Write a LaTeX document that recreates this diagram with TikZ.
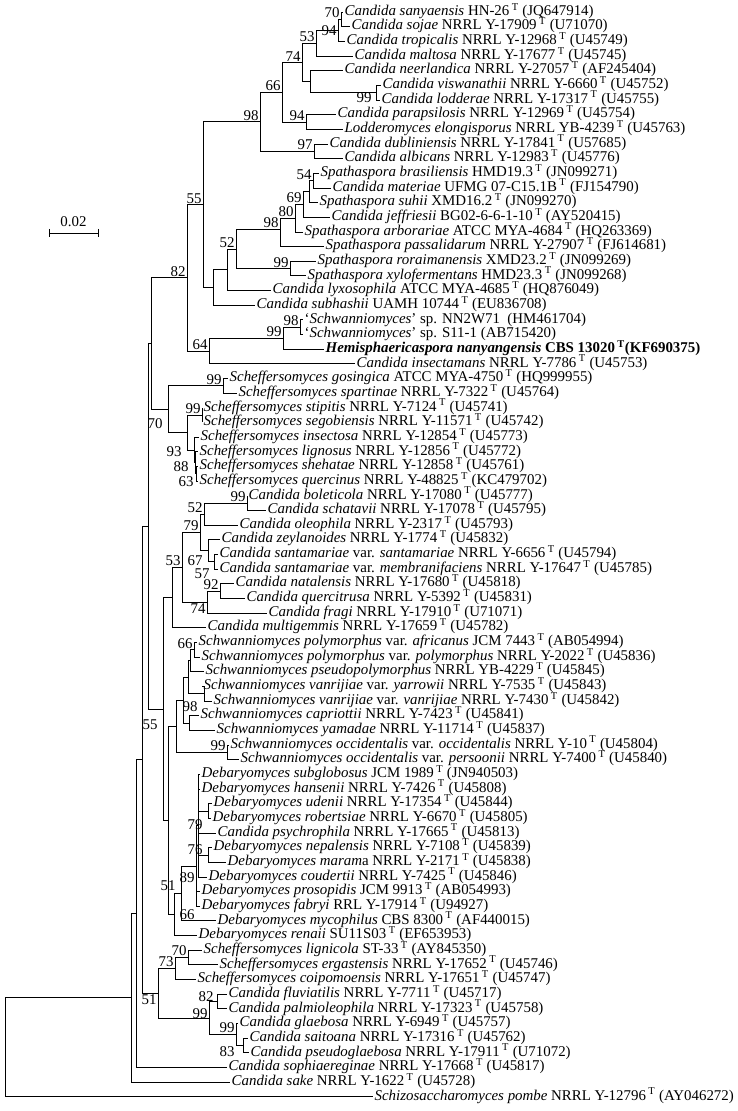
\documentclass[tikz,border=0pt]{standalone}
\usepackage{fontspec}
\setmainfont{Liberation Serif}
\usetikzlibrary{positioning}
\newcommand{\typ}{\,\textsuperscript{T}\ }
\tikzset{
  leaf/.style={anchor=west, inner sep=1.5pt, text height=9.5pt, text depth=3pt},
  bs/.style={inner sep=1.2pt},
  br/.style={line width=0.8pt}
}
\begin{document}
\begin{tikzpicture}[x=1pt, y=-14.66pt, every node/.style={font=\fontsize{14.9}{15}\selectfont}]
\useasboundingbox (0,0.18) rectangle (738,75.97);
% leaves
\node[leaf] (l1) at (343,1) {\textit{Candida sanyaensis} HN-26\typ(JQ647914)};
\node[leaf] (l2) at (350,2) {\textit{Candida sojae} NRRL Y-17909\typ(U71070)};
\node[leaf] (l3) at (345,3) {\textit{Candida tropicalis} NRRL Y-12968\typ(U45749)};
\node[leaf] (l4) at (353,4) {\textit{Candida maltosa} NRRL Y-17677\typ(U45745)};
\node[leaf] (l5) at (343,5) {\textit{Candida neerlandica} NRRL Y-27057\typ(AF245404)};
\node[leaf] (l6) at (381,6) {\textit{Candida viswanathii} NRRL Y-6660\typ(U45752)};
\node[leaf] (l7) at (380,7) {\textit{Candida lodderae} NRRL Y-17317\typ(U45755)};
\node[leaf] (l8) at (336,8) {\textit{Candida parapsilosis} NRRL Y-12969\typ(U45754)};
\node[leaf] (l9) at (343,9) {\textit{Lodderomyces elongisporus} NRRL YB-4239\typ(U45763)};
\node[leaf] (l10) at (328,10) {\textit{Candida dubliniensis} NRRL Y-17841\typ(U57685)};
\node[leaf] (l11) at (343,11) {\textit{Candida albicans} NRRL Y-12983\typ(U45776)};
\node[leaf] (l12) at (319,12) {\textit{Spathaspora brasiliensis} HMD19.3\typ(JN099271)};
\node[leaf] (l13) at (331,13) {\textit{Candida materiae} UFMG 07-C15.1B\typ(FJ154790)};
\node[leaf] (l14) at (318,14) {\textit{Spathaspora suhii} XMD16.2\typ(JN099270)};
\node[leaf] (l15) at (330,15) {\textit{Candida jeffriesii} BG02-6-6-1-10\typ(AY520415)};
\node[leaf] (l16) at (303,16) {\textit{Spathaspora arborariae} ATCC MYA-4684\typ(HQ263369)};
\node[leaf] (l17) at (324,17) {\textit{Spathaspora passalidarum} NRRL Y-27907\typ(FJ614681)};
\node[leaf] (l18) at (316,18) {\textit{Spathaspora roraimanensis} XMD23.2\typ(JN099269)};
\node[leaf] (l19) at (306,19) {\textit{Spathaspora xylofermentans} HMD23.3\typ(JN099268)};
\node[leaf] (l20) at (271,20) {\textit{Candida lyxosophila} ATCC MYA-4685\typ(HQ876049)};
\node[leaf] (l21) at (255,21) {\textit{Candida subhashii} UAMH 10744\typ(EU836708)};
\node[leaf] (l22) at (303,22) {`\textit{Schwanniomyces}' sp. NN2W71\ \ (HM461704)};
\node[leaf] (l23) at (303,23) {`\textit{Schwanniomyces}' sp. S11-1 (AB715420)};
\node[leaf] (l24) at (324,24) {\textbf{\textit{Hemisphaericaspora nanyangensis} CBS 13020\,\textsuperscript{T}(KF690375)}};
\node[leaf] (l25) at (355,25) {\textit{Candida insectamans} NRRL Y-7786\typ(U45753)};
\node[leaf] (l26) at (228,26) {\textit{Scheffersomyces gosingica} ATCC MYA-4750\typ(HQ999955)};
\node[leaf] (l27) at (237,27) {\textit{Scheffersomyces spartinae} NRRL Y-7322\typ(U45764)};
\node[leaf] (l28) at (202,28) {\textit{Scheffersomyces stipitis} NRRL Y-7124\typ(U45741)};
\node[leaf] (l29) at (202,29) {\textit{Scheffersomyces segobiensis} NRRL Y-11571\typ(U45742)};
\node[leaf] (l30) at (199,30) {\textit{Scheffersomyces insectosa} NRRL Y-12854\typ(U45773)};
\node[leaf] (l31) at (198,31) {\textit{Scheffersomyces lignosus} NRRL Y-12856\typ(U45772)};
\node[leaf] (l32) at (198,32) {\textit{Scheffersomyces shehatae} NRRL Y-12858\typ(U45761)};
\node[leaf] (l33) at (198,33) {\textit{Scheffersomyces quercinus} NRRL Y-48825\typ(KC479702)};
\node[leaf] (l34) at (247,34) {\textit{Candida boleticola} NRRL Y-17080\typ(U45777)};
\node[leaf] (l35) at (266,35) {\textit{Candida schatavii} NRRL Y-17078\typ(U45795)};
\node[leaf] (l36) at (238,36) {\textit{Candida oleophila} NRRL Y-2317\typ(U45793)};
\node[leaf] (l37) at (220,37) {\textit{Candida zeylanoides} NRRL Y-1774\typ(U45832)};
\node[leaf] (l38) at (218,38) {\textit{Candida santamariae} var. \textit{santamariae} NRRL Y-6656\typ(U45794)};
\node[leaf] (l39) at (218,39) {\textit{Candida santamariae} var. \textit{membranifaciens} NRRL Y-17647\typ(U45785)};
\node[leaf] (l40) at (234,40) {\textit{Candida natalensis} NRRL Y-17680\typ(U45818)};
\node[leaf] (l41) at (245,41) {\textit{Candida quercitrusa} NRRL Y-5392\typ(U45831)};
\node[leaf] (l42) at (267,42) {\textit{Candida fragi} NRRL Y-17910\typ(U71071)};
\node[leaf] (l43) at (206,43) {\textit{Candida multigemmis} NRRL Y-17659\typ(U45782)};
\node[leaf] (l44) at (197,44) {\textit{Schwanniomyces polymorphus} var. \textit{africanus} JCM 7443\typ(AB054994)};
\node[leaf] (l45) at (200,45) {\textit{Schwanniomyces polymorphus} var. \textit{polymorphus} NRRL Y-2022\typ(U45836)};
\node[leaf] (l46) at (204,46) {\textit{Schwanniomyces pseudopolymorphus} NRRL YB-4229\typ(U45845)};
\node[leaf] (l47) at (202,47) {\textit{Schwanniomyces vanrijiae} var. \textit{yarrowii} NRRL Y-7535\typ(U45843)};
\node[leaf] (l48) at (212,48) {\textit{Schwanniomyces vanrijiae} var. \textit{vanrijiae} NRRL Y-7430\typ(U45842)};
\node[leaf] (l49) at (199,49) {\textit{Schwanniomyces capriottii} NRRL Y-7423\typ(U45841)};
\node[leaf] (l50) at (215,50) {\textit{Schwanniomyces yamadae} NRRL Y-11714\typ(U45837)};
\node[leaf] (l51) at (229,51) {\textit{Schwanniomyces occidentalis} var. \textit{occidentalis} NRRL Y-10\typ(U45804)};
\node[leaf] (l52) at (239,52) {\textit{Schwanniomyces occidentalis} var. \textit{persoonii} NRRL Y-7400\typ(U45840)};
\node[leaf] (l53) at (200,53) {\textit{Debaryomyces subglobosus} JCM 1989\typ(JN940503)};
\node[leaf] (l54) at (200,54) {\textit{Debaryomyces hansenii} NRRL Y-7426\typ(U45808)};
\node[leaf] (l55) at (212,55) {\textit{Debaryomyces udenii} NRRL Y-17354\typ(U45844)};
\node[leaf] (l56) at (211,56) {\textit{Debaryomyces robertsiae} NRRL Y-6670\typ(U45805)};
\node[leaf] (l57) at (216,57) {\textit{Candida psychrophila} NRRL Y-17665\typ(U45813)};
\node[leaf] (l58) at (212,58) {\textit{Debaryomyces nepalensis} NRRL Y-7108\typ(U45839)};
\node[leaf] (l59) at (226,59) {\textit{Debaryomyces maram}a NRRL Y-2171\typ(U45838)};
\node[leaf] (l60) at (207,60) {\textit{Debaryomyces coudertii} NRRL Y-7425\typ(U45846)};
\node[leaf] (l61) at (200,61) {\textit{Debaryomyces prosopidis} JCM 9913\typ(AB054993)};
\node[leaf] (l62) at (200,62) {\textit{Debaryomyces fabryi} RRL Y-17914\typ(U94927)};
\node[leaf] (l63) at (216,63) {\textit{Debaryomyces mycophilus} CBS 8300\typ(AF440015)};
\node[leaf] (l64) at (197,64) {\textit{Debaryomyces renaii} SU11S03\typ(EF653953)};
\node[leaf] (l65) at (202,65) {\textit{Scheffersomyces lignicola} ST-33\typ(AY845350)};
\node[leaf] (l66) at (218,66) {\textit{Scheffersomyces ergastensis} NRRL Y-17652\typ(U45746)};
\node[leaf] (l67) at (196,67) {\textit{Scheffersomyces coipomoensis} NRRL Y-17651\typ(U45747)};
\node[leaf] (l68) at (227,68) {\textit{Candida fluviatilis} NRRL Y-7711\typ(U45717)};
\node[leaf] (l69) at (227,69) {\textit{Candida palmioleophila} NRRL Y-17323\typ(U45758)};
\node[leaf] (l70) at (238,70) {\textit{Candida glaebosa} NRRL Y-6949\typ(U45757)};
\node[leaf] (l71) at (248,71) {\textit{Candida saitoana} NRRL Y-17316\typ(U45762)};
\node[leaf] (l72) at (249,72) {\textit{Candida pseudoglaebosa} NRRL Y-17911\typ(U71072)};
\node[leaf] (l73) at (227,73) {\textit{Candida sophiaereginae} NRRL Y-17668\typ(U45817)};
\node[leaf] (l74) at (230,74) {\textit{Candida sake} NRRL Y-1622\typ(U45728)};
\node[leaf] (l75) at (373,75) {\textit{Schizosaccharomyces pombe} NRRL Y-12796\typ(AY046272)};
% internal nodes
\coordinate (n70) at (341,1.5);   \coordinate (n94) at (338,2.25);
\coordinate (n53) at (316,3.125); \coordinate (nVL) at (376,6.5);
\coordinate (nNe) at (310,5.75);  \coordinate (n74) at (302,4.4375);
\coordinate (n94b) at (306,8.5);  \coordinate (n66) at (282,6.469);
\coordinate (n97) at (314,10.5);  \coordinate (n98) at (260,8.484);
\coordinate (n54) at (313,12.5);  \coordinate (n69) at (309,13.25);
\coordinate (nJ) at (303,14.125); \coordinate (nK) at (295,15.0625);
\coordinate (nM) at (280,15.83);  \coordinate (n99r) at (290,18.5);
\coordinate (n52) at (236,17.17); \coordinate (nLyx) at (227,18.58);
\coordinate (nSub) at (213,19.79); \coordinate (n55) at (203,14.14);
\coordinate (n98c) at (300,22.5); \coordinate (n99c) at (283,23.25);
\coordinate (n64) at (209,24.125); \coordinate (n82) at (187,19.13);
\coordinate (n99g) at (223,26.5); \coordinate (n99s) at (202,28.5);
\coordinate (n63) at (196,32.5);  \coordinate (n88) at (195,31.75);
\coordinate (n93) at (194,30.875); \coordinate (nComb) at (187,29.69);
\coordinate (nSch) at (168,28.09); \coordinate (nY1) at (151,23.61);
\coordinate (n99b) at (247,34.5); \coordinate (n52e) at (204,35.25);
\coordinate (n3839) at (214,38.5); \coordinate (nZ) at (208,37.75);
\coordinate (n79) at (200,36.5);  \coordinate (n92) at (220,40.5);
\coordinate (n74e) at (207,41.25); \coordinate (n53e) at (182,38.875);
\coordinate (nMult) at (172,40.94);
\coordinate (n66s) at (194,44.5); \coordinate (nPs) at (190,45.25);
\coordinate (nVan) at (204,47.5); \coordinate (nX1) at (188,46.375);
\coordinate (nCY) at (189,49.5);  \coordinate (nX2) at (183,47.94);
\coordinate (n99o) at (227,51.5); \coordinate (nX3) at (176,49.72);
\coordinate (nUR) at (208,55.5);  \coordinate (n76) at (208,58.5);
\coordinate (nD1) at (198,56.5);  \coordinate (nD2) at (196,59.25);
\coordinate (n66d) at (181,61.125); \coordinate (n51d) at (174,62.56);
\coordinate (nY4) at (168,56.14); \coordinate (nY3) at (163,48.54);
\coordinate (n70l) at (188,65.5); \coordinate (n73) at (175,66.25);
\coordinate (n82f) at (217,68.5); \coordinate (n83) at (243,71.5);
\coordinate (n99gl) at (236,70.75); \coordinate (n99f) at (209,69.625);
\coordinate (nA) at (158,67.94);
\coordinate (nY2) at (148,36.07); \coordinate (nY5) at (142,52.0);
\coordinate (nB) at (136,62.5);   \coordinate (nIn) at (131,68.25);
\coordinate (root) at (5,71.6);
% branches
\foreach \p/\c in {n70/l1, n70/l2, n94/n70, n94/l3, n53/n94, n53/l4, nVL/l6, nVL/l7,
  nNe/l5, nNe/nVL, n74/n53, n74/nNe, n94b/l8, n94b/l9, n66/n74, n66/n94b,
  n97/l10, n97/l11, n98/n66, n98/n97, n54/l12, n54/l13, n69/n54, n69/l14,
  nJ/n69, nJ/l15, nK/nJ, nK/l16, nM/nK, nM/l17, n99r/l18, n99r/l19,
  n52/nM, n52/n99r, nLyx/n52, nLyx/l20, nSub/nLyx, nSub/l21, n55/n98, n55/nSub,
  n98c/l22, n98c/l23, n99c/n98c, n99c/l24, n64/n99c, n64/l25, n82/n55, n82/n64,
  n99g/l26, n99g/l27, n99s/l28, n99s/l29, n63/l32, n63/l33, n88/l31, n88/n63,
  n93/l30, n93/n88, nComb/n99s, nComb/n93, nSch/n99g, nSch/nComb, nY1/n82, nY1/nSch,
  n99b/l34, n99b/l35, n52e/n99b, n52e/l36, n3839/l38, n3839/l39, nZ/l37, nZ/n3839,
  n79/n52e, n79/nZ, n92/l40, n92/l41, n74e/n92, n74e/l42, n53e/n79, n53e/n74e,
  nMult/n53e, nMult/l43, n66s/l44, n66s/l45, nPs/n66s, nPs/l46, nVan/l47, nVan/l48,
  nX1/nPs, nX1/nVan, nCY/l49, nCY/l50, nX2/nX1, nX2/nCY, n99o/l51, n99o/l52,
  nX3/nX2, nX3/n99o, nUR/l55, nUR/l56, n76/l58, n76/l59,
  nD1/l53, nD1/l54, nD1/nUR, nD1/l57, nD1/n76, nD1/l60, nD2/nD1, nD2/l61, nD2/l62,
  n66d/nD2, n66d/l63, n51d/n66d, n51d/l64, nY4/nX3, nY4/n51d, nY3/nMult, nY3/nY4,
  n70l/l65, n70l/l66, n73/n70l, n73/l67, n82f/l68, n82f/l69, n83/l71, n83/l72,
  n99gl/l70, n99gl/n83, n99f/n82f, n99f/n99gl, nA/n73, nA/n99f,
  nY2/nY1, nY2/nY3, nY5/nY2, nY5/nA, nB/nY5, nB/l73, nIn/nB, nIn/l74, root/nIn, root/l75}
  \draw[br] (\p) |- (\c);
% bootstrap values
\foreach \n/\v in {n70/70, n53/53, n74/74, n66/66, n94b/94, n98/98, n97/97,
  n54/54, nJ/69, nK/80, nM/98, n52/52, n99r/99, n55/55, n98c/98, n99c/99, n64/64, n82/82,
  n99g/99, n99s/99, n99b/99, n52e/52, n79/79, n92/92, n53e/53, n66s/66, n99o/99,
  n70l/70, n73/73, n99gl/99}
  \node[bs, above left] at (\n) {\v};
\node[bs, left] at (n94) {94};
\node[bs, left] at (373,6.85) {99};
\node[bs, below left] at (n74e) {74};
\node[bs, below left] at (nA) {51};
\node[bs, left] at (164,29.1) {70};
\node[bs, left] at (183,31) {93};
\node[bs, left] at (190,32) {88};
\node[bs, left] at (195,33.06) {63};
\node[bs, left] at (204,38.45) {67};
\node[bs, left] at (211,39.3) {57};
\node[bs, left] at (199,48.4) {98};
\node[bs, left] at (159,49.6) {55};
\node[bs, left] at (204,56.46) {79};
\node[bs, left] at (204,58.16) {76};
\node[bs, left] at (196,60.07) {89};
\node[bs, left] at (196,62.6) {66};
\node[bs, left] at (177,60.6) {51};
\node[bs, left] at (215,68.2) {82};
\node[bs, left] at (209,69.3) {99};
\node[bs, left] at (236,71.95) {83};
% scale bar
\coordinate (sbL) at (49,16.07);
\coordinate (sbR) at (98,16.07);
\draw[br] (sbL) -- (sbR);
\draw[br] ([yshift=4pt]sbL) -- ([yshift=-4pt]sbL);
\draw[br] ([yshift=4pt]sbR) -- ([yshift=-4pt]sbR);
\node (sbT) at (73.5,15.3) {0.02};
\end{tikzpicture}
\end{document}
